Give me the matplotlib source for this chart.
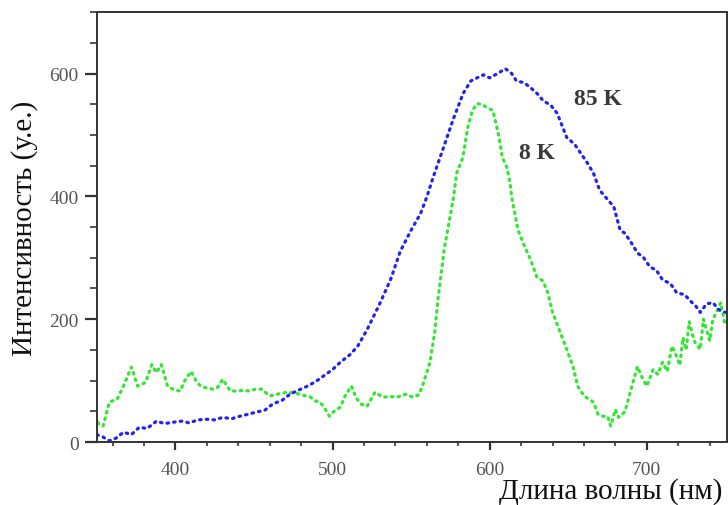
import numpy as np
import matplotlib
matplotlib.use("Agg")
import matplotlib.pyplot as plt
from matplotlib.ticker import MultipleLocator

plt.rcParams['font.family'] = ['Liberation Serif', 'DejaVu Serif']

# 85 K spectrum (blue)
wl_85 = [350, 354, 358, 362, 367, 372, 377, 382, 388, 393, 398, 404, 409, 414, 420,
         425, 430, 436, 441, 446, 452, 457, 462, 468, 473, 478, 484, 489, 494, 500,
         505, 511, 516, 522, 530, 537, 543, 550, 556, 560, 564, 570, 577, 583, 588,
         592, 596, 600, 605, 610, 614, 617, 622, 626, 630, 634, 639, 643, 649, 654,
         658, 662, 666, 670, 675, 679, 683, 686, 690, 694, 698, 702, 706, 710, 715,
         719, 724, 728, 731, 734, 738, 742, 746, 750]
int_85 = [12, 8, 2, 6, 16, 12, 24, 22, 34, 30, 32, 34, 31, 36, 37,
          36, 40, 38, 42, 45, 49, 52, 62, 68, 78, 84, 91, 98, 107, 118,
          130, 142, 156, 183, 225, 265, 310, 345, 372, 399, 431, 475, 527, 567, 588,
          593, 598, 593, 600, 608, 600, 588, 585, 577, 568, 556, 548, 535, 496, 485,
          470, 455, 438, 410, 395, 383, 345, 340, 325, 308, 300, 285, 280, 264, 258,
          243, 240, 229, 222, 211, 225, 227, 215, 211]

# 8 K spectrum (green)
wl_8 = [349, 351, 354, 358, 363, 367, 372, 376, 381, 385, 388, 391, 395, 399, 403,
        406, 410, 413, 416, 420, 424, 427, 430, 435, 439, 443, 447, 451, 455, 460,
        465, 471, 475, 479, 483, 486, 489, 492, 495, 498, 501, 505, 508, 512, 515,
        518, 522, 527, 532, 537, 541, 547, 551, 555, 558, 562, 565, 567, 571, 575,
        577, 579, 583, 586, 589, 592, 595, 598, 602, 604, 606, 608, 611, 613, 614,
        618, 622, 626, 630, 634, 637, 640, 645, 649, 653, 656, 660, 663, 666, 669,
        672, 675, 677, 680, 682, 686, 690, 694, 697, 700, 704, 707, 710, 713, 716,
        719, 721, 723, 725, 727, 729, 731, 734, 736, 738, 740, 742, 744, 747, 750]
int_8 = [42, 30, 26, 65, 70, 91, 122, 91, 97, 126, 113, 126, 91, 85, 83,
         100, 115, 100, 91, 88, 86, 89, 102, 83, 83, 84, 83, 86, 86, 75,
         78, 81, 80, 78, 75, 73, 67, 65, 55, 42, 50, 57, 75, 91, 72,
         62, 58, 81, 73, 74, 73, 78, 73, 77, 97, 130, 178, 230, 313, 370,
         399, 438, 464, 512, 540, 551, 550, 545, 540, 519, 496, 464, 447, 421, 399,
         345, 320, 297, 269, 262, 243, 211, 178, 151, 123, 91, 75, 70, 65, 45,
         42, 42, 26, 53, 40, 49, 86, 123, 105, 91, 118, 110, 130, 115, 156,
         139, 125, 170, 150, 196, 175, 160, 151, 200, 183, 165, 199, 210, 227, 188]

fig = plt.figure(figsize=(7.28, 5.06), dpi=100)
ax = fig.add_axes([0.133, 0.1245, 0.8656, 0.8495])

ax.plot(wl_8, int_8, linestyle=(0, (0.5, 1.6)), color='#33e633', lw=2.3,
        dash_capstyle='round')
ax.plot(wl_85, int_85, linestyle=(0, (0.5, 1.6)), color='#2424ee', lw=2.3,
        dash_capstyle='round')

ax.text(669, 559, '85 K', fontsize=17, fontweight='bold', color='#3a3a3a',
        ha='center', va='center')
ax.text(630, 472, '8 K', fontsize=17, fontweight='bold', color='#3a3a3a',
        ha='center', va='center')

ax.set_xlim(350, 751)
ax.set_ylim(0, 700)
ax.xaxis.set_major_locator(MultipleLocator(100))
ax.xaxis.set_minor_locator(MultipleLocator(20))
ax.yaxis.set_major_locator(MultipleLocator(200))
ax.yaxis.set_minor_locator(MultipleLocator(50))

for s in ax.spines.values():
    s.set_color('#333333')
    s.set_linewidth(1.4)

ax.tick_params(axis='both', which='major', labelsize=14, labelcolor='#555555',
               color='#333333', width=1.6)
ax.tick_params(axis='x', which='major', length=6, pad=8)
ax.tick_params(axis='x', which='minor', length=3, width=1.2, color='#333333')
ax.tick_params(axis='y', which='major', length=9, pad=4)
ax.tick_params(axis='y', which='minor', length=5, width=1.2, color='#333333')

ax.set_ylabel('Интенсивность (у.е.)', fontsize=21, color='#111111', labelpad=8)
fig.text(0.992, 0.028, 'Длина волны (нм)', fontsize=21, color='#111111',
         ha='right', va='center')

fig.savefig('out.png', dpi=100)
